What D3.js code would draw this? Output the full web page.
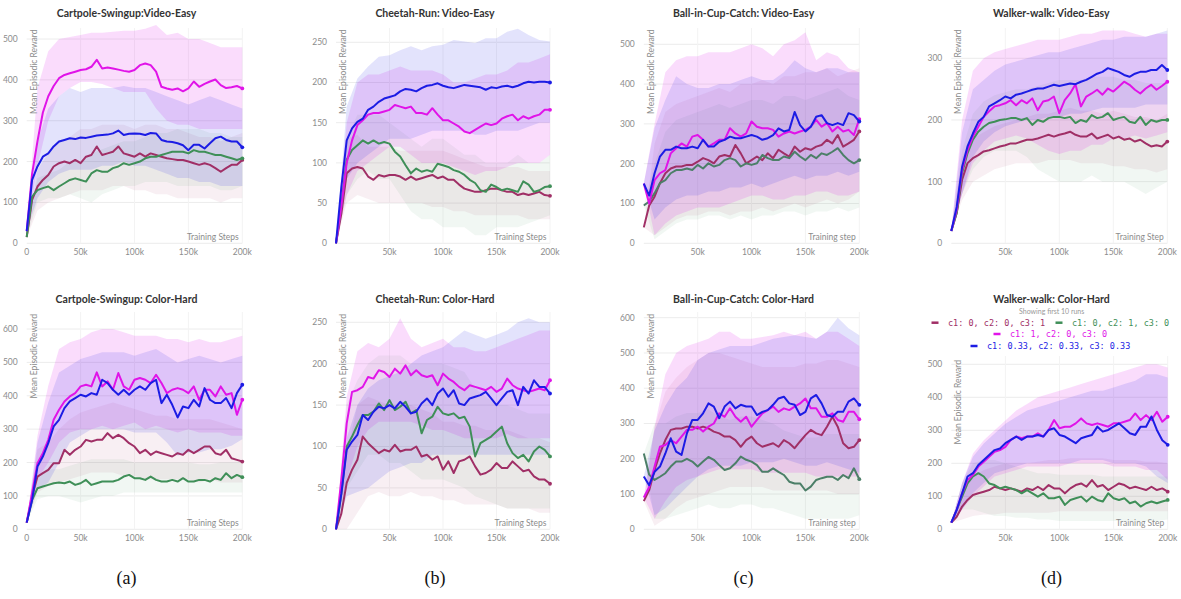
<!DOCTYPE html>
<html><head><meta charset="utf-8">
<script src="https://cdn.jsdelivr.net/npm/d3@7/dist/d3.min.js"></script>
<style>body{margin:0;background:#fff}svg{display:block}</style>
</head><body><svg id="chart" width="1181" height="599"></svg>
<script>
// ---------- shared data ----------
const STEPS = d3.range(0, 201, 5).map(k => k * 1000);       // mean curves
const BAND_STEPS = d3.range(0, 201, 10).map(k => k * 1000); // shaded bands
const SERIES = ["c1: 0, c2: 0, c3: 1", "c1: 0, c2: 1, c3: 0", "c1: 1, c2: 0, c3: 0", "c1: 0.33, c2: 0.33, c3: 0.33"];
const COLORS = ["#a02f66", "#3f8f58", "#e014e8", "#1c1ce4"];
const TITLES = ["Cartpole-Swingup:Video-Easy", "Cheetah-Run: Video-Easy", "Ball-in-Cup-Catch: Video-Easy", "Walker-walk: Video-Easy",
                "Cartpole-Swingup: Color-Hard", "Cheetah-Run: Color-Hard", "Ball-in-Cup-Catch: Color-Hard", "Walker-walk: Color-Hard"];
const X_LABELS = ["Training Steps", "Training Steps", "Training step", "Training Step", "Training Steps", "Training Steps", "Training step", "Training Step"];
const Y_LABEL = "Mean Episodic Reward";
const Y_TICKS = [[0,100,200,300,400,500],[0,50,100,150,200,250],[0,100,200,300,400,500],[0,100,200,300],
                 [0,100,200,300,400,500,600],[0,50,100,150,200,250],[0,100,200,300,400,500,600],[0,100,200,300,400,500]];
const X_TICKS_A = [0, 50000, 100000, 150000, 200000];
const X_TICKS = [50000, 100000, 150000, 200000];
const SUB_LABELS = ["(a)", "(b)", "(c)", "(d)"];

// ---------- Cartpole Video-Easy ----------
const cartVE_maroon = [15,106,139,155,167,188,196,200,196,204,196,212,216,237,216,220,224,237,220,216,212,220,212,220,216,212,208,206,204,204,200,196,192,196,192,184,175,184,192,192,204];
const cartVE_green = [15,114,130,135,139,130,139,147,155,159,155,151,171,179,175,175,184,188,196,192,196,200,208,212,212,216,220,224,224,224,220,228,224,224,220,216,216,212,208,204,208];
const cartVE_magenta = [30,170,250,320,360,385,404,412,416,420,424,426,432,449,428,430,428,425,422,420,424,436,440,436,420,383,379,376,379,372,379,396,383,390,396,401,387,380,382,385,379];
const cartVE_blue = [30,155,188,212,220,237,249,253,257,255,259,258,261,264,265,266,269,276,265,268,269,268,265,270,269,253,249,248,245,240,228,241,241,232,245,257,261,253,249,249,235];
const cartVE_maroon_lo = [15,80,100,110,120,130,130,130,140,140,130,130,120,120,110,110,110,110,100,110,110];
const cartVE_maroon_hi = [15,180,220,250,260,280,280,290,290,290,280,290,290,280,280,270,260,260,250,260,270];
const cartVE_green_lo = [15,100,110,110,120,110,100,120,130,140,140,150,150,150,140,140,140,140,130,130,140];
const cartVE_green_hi = [15,160,170,180,200,200,220,230,240,250,250,260,270,270,280,280,280,270,270,260,260];
const cartVE_magenta_lo = [30,190,300,360,380,395,395,390,380,370,370,370,330,300,290,290,280,280,280,280,280];
const cartVE_magenta_hi = [30,380,470,500,505,510,515,515,518,520,520,525,534,510,515,500,500,490,480,480,480];
const cartVE_blue_lo = [30,110,150,170,180,180,180,190,190,200,190,190,180,170,160,160,150,150,140,140,140];
const cartVE_blue_hi = [30,250,330,360,380,370,380,380,380,385,380,380,370,360,350,340,350,360,350,340,330];

// ---------- Cheetah Video-Easy ----------
const cheeVE_maroon = [0,37,87,93,95,93,83,79,85,83,85,85,83,79,83,79,81,83,85,81,83,79,79,73,68,66,64,64,66,68,68,66,64,64,60,62,60,62,64,60,59];
const cheeVE_green = [0,46,104,116,122,128,124,128,124,126,124,114,108,97,87,93,89,91,89,99,97,95,91,89,85,79,75,66,64,73,70,66,68,66,64,77,73,64,66,70,71];
const cheeVE_magenta = [0,46,100,128,147,153,160,162,162,164,166,172,170,168,170,162,162,160,168,160,153,153,149,145,139,137,141,145,149,147,149,155,158,160,153,158,155,158,160,166,166];
const cheeVE_blue = [0,70,128,143,151,155,166,170,176,180,182,184,189,192,191,189,193,196,197,199,196,194,193,195,197,196,195,194,191,194,193,195,196,194,196,199,201,200,201,201,200];
const cheeVE_maroon_lo = [0,50,60,55,50,50,50,50,50,45,45,40,40,35,35,35,35,35,30,30,30];
const cheeVE_maroon_hi = [0,130,135,120,120,120,115,115,115,115,115,110,105,100,95,95,95,95,90,90,90];
const cheeVE_green_lo = [0,60,80,90,80,80,60,40,30,30,20,20,20,10,10,20,20,20,25,30,35];
const cheeVE_green_hi = [0,130,160,160,160,150,140,130,120,130,130,120,110,110,100,100,100,110,100,100,110];
const cheeVE_magenta_lo = [0,60,90,100,110,120,120,110,100,100,100,95,90,85,90,90,95,100,100,100,110];
const cheeVE_magenta_hi = [0,150,200,210,210,215,220,215,215,215,210,200,200,205,210,210,215,225,225,230,235];
const cheeVE_blue_lo = [0,80,100,110,120,130,130,130,135,140,140,140,140,135,135,140,140,140,145,150,150];
const cheeVE_blue_hi = [0,170,205,220,232,234,240,245,240,245,247,253,251,249,255,255,263,267,259,253,251];

// ---------- Ball-in-Cup Video-Easy ----------
const ballVE_maroon = [40,95,117,151,176,188,193,193,197,197,205,214,209,201,218,222,218,247,226,201,209,218,209,226,214,235,226,218,243,230,239,235,243,247,260,251,272,243,251,260,281];
const ballVE_green = [95,105,126,151,159,176,184,184,188,184,197,188,201,193,197,209,214,209,193,201,197,201,222,214,209,209,218,214,230,218,209,222,214,226,222,230,239,222,209,201,209];
const ballVE_magenta = [150,100,159,176,184,226,239,251,243,268,272,260,243,251,260,260,289,276,268,276,306,293,289,289,285,268,276,281,276,281,285,293,310,293,302,281,293,281,285,272,312];
const ballVE_blue = [150,120,176,218,235,235,243,239,239,243,239,260,243,243,255,260,268,264,264,268,272,268,260,264,272,289,281,285,330,297,281,293,318,322,302,297,302,297,327,322,306];
const ballVE_maroon_lo = [40,20,40,60,70,70,80,80,70,80,80,90,80,90,100,90,100,110,100,110,130];
const ballVE_maroon_hi = [40,250,330,350,360,370,380,390,380,400,400,410,400,420,420,430,430,440,420,430,440];
const ballVE_green_lo = [95,10,30,50,60,60,70,70,60,70,60,70,70,80,80,70,80,80,90,80,90];
const ballVE_green_hi = [95,200,280,310,320,330,340,350,340,350,360,360,350,370,370,360,370,380,390,370,360];
const ballVE_magenta_lo = [150,20,50,70,80,90,90,90,100,110,120,120,110,110,120,120,130,130,120,120,130];
const ballVE_magenta_hi = [150,300,430,460,470,470,480,480,480,490,500,490,470,500,510,530,460,480,470,440,430];
const ballVE_blue_lo = [150,60,90,110,120,120,130,130,140,140,150,140,150,160,170,160,170,170,180,170,180];
const ballVE_blue_hi = [150,290,360,420,400,390,390,400,400,410,420,410,410,430,460,440,430,440,440,430,430];

// ---------- Walker Video-Easy ----------
const walkVE_maroon = [20,49,103,130,138,143,149,151,154,157,159,162,162,165,168,168,170,173,176,173,176,178,181,176,173,173,178,170,173,176,170,173,168,170,165,168,162,157,159,157,165];
const walkVE_green = [20,49,114,146,168,181,189,195,197,200,201,203,203,200,203,192,200,197,203,205,205,203,205,195,200,197,208,203,205,211,200,203,205,197,195,205,192,200,197,200,200];
const walkVE_magenta = [20,54,119,151,173,189,205,214,222,224,227,232,224,232,227,235,216,230,232,238,211,232,243,258,222,238,243,249,241,251,246,254,262,257,249,243,251,257,249,255,262];
const walkVE_blue = [20,59,124,157,178,197,205,222,227,232,238,235,241,243,246,249,251,251,254,257,255,257,259,258,262,265,270,275,278,284,281,278,273,270,275,278,278,281,281,289,281];
const walkVE_maroon_lo = [20,70,100,110,120,125,130,130,130,135,135,135,130,130,130,125,125,120,120,115,120];
const walkVE_maroon_hi = [20,140,170,180,190,195,200,205,210,210,215,220,215,215,210,215,210,205,205,200,210];
const walkVE_green_lo = [20,80,120,140,150,150,150,140,120,110,100,100,100,110,100,100,100,90,80,90,100];
const walkVE_green_hi = [20,150,210,230,240,245,250,250,255,260,265,265,265,270,270,270,265,265,260,260,260];
const walkVE_magenta_lo = [20,80,130,150,165,170,175,170,160,150,145,150,150,160,160,170,170,175,170,175,180];
const walkVE_magenta_hi = [20,200,280,300,310,315,320,325,330,330,330,335,340,340,345,345,345,340,335,340,340];
const walkVE_blue_lo = [20,80,140,165,180,190,195,200,200,205,205,210,210,215,220,220,220,220,225,225,225];
const walkVE_blue_hi = [20,180,250,265,280,290,295,300,305,310,310,315,320,325,330,330,335,335,335,340,345];

// ---------- Cartpole Color-Hard ----------
const cartCH_maroon = [20,98,158,168,178,198,198,238,223,238,248,268,263,268,268,288,273,283,273,258,248,228,238,223,233,228,223,218,228,223,238,228,238,248,248,228,223,238,213,208,203];
const cartCH_green = [20,88,123,128,133,138,140,138,143,133,138,148,133,138,143,143,143,148,158,163,153,153,148,158,148,143,143,148,143,153,143,143,148,148,143,153,148,168,153,163,156];
const cartCH_magenta = [20,108,198,228,268,328,358,383,398,408,428,433,428,470,428,443,418,468,428,418,448,453,448,438,463,438,408,418,423,418,408,428,388,418,418,398,428,403,408,343,388];
const cartCH_blue = [20,88,188,218,258,308,328,363,383,393,403,398,408,403,448,438,418,403,418,403,418,428,418,438,448,378,403,373,335,368,363,388,368,423,388,378,378,393,363,408,433];
const cartCH_maroon_lo = [20,110,130,140,150,160,170,170,170,160,160,150,150,150,150,150,140,150,140,140,140];
const cartCH_maroon_hi = [20,240,260,300,330,350,360,370,380,370,360,350,340,340,330,330,330,330,320,310,300];
const cartCH_green_lo = [20,90,100,100,90,80,90,100,100,110,110,110,110,110,110,110,110,110,110,110,110];
const cartCH_green_hi = [20,160,180,180,190,200,210,210,210,210,200,200,200,200,200,200,195,195,200,200,200];
const cartCH_magenta_lo = [20,150,200,260,290,300,300,310,300,310,320,300,310,300,290,300,290,290,290,280,280];
const cartCH_magenta_hi = [20,280,430,540,560,570,590,600,600,590,580,580,580,570,570,560,570,560,560,570,580];
const cartCH_blue_lo = [20,120,140,200,260,280,300,300,300,300,290,290,290,260,220,230,230,240,240,250,270];
const cartCH_blue_hi = [20,260,380,470,490,510,520,530,530,530,520,530,540,520,500,510,520,510,500,510,520];

// ---------- Cheetah Color-Hard ----------
const cheeCH_maroon = [0,19,56,72,84,112,104,98,92,96,94,102,94,96,96,100,88,90,84,88,72,82,68,82,84,88,76,66,68,72,80,74,74,82,76,70,72,64,60,60,55];
const cheeCH_green = [0,43,100,112,126,138,138,142,152,144,156,144,148,154,140,144,116,132,136,148,140,138,140,134,136,124,88,104,108,112,118,124,104,92,86,90,82,94,100,96,88];
const cheeCH_magenta = [0,60,128,166,168,172,184,182,192,190,184,194,188,198,186,192,186,184,186,174,188,182,178,172,168,174,172,170,168,172,166,170,182,174,170,168,166,168,170,168,180];
const cheeCH_blue = [0,43,96,106,114,138,132,142,148,146,150,146,154,148,140,142,152,158,150,164,170,160,168,152,150,158,160,162,166,158,150,158,166,168,150,172,164,180,172,172,164];
const cheeCH_maroon_lo = [0,0,20,40,45,40,40,45,40,40,35,35,30,30,30,30,25,25,25,20,20];
const cheeCH_maroon_hi = [0,90,150,160,155,150,150,150,145,140,130,130,125,125,120,120,120,115,110,110,105];
const cheeCH_green_lo = [0,50,70,90,90,80,80,70,60,60,60,55,50,40,35,30,25,25,25,25,25];
const cheeCH_green_hi = [0,150,180,200,210,210,210,200,200,200,200,195,190,170,160,150,150,145,140,140,140];
const cheeCH_magenta_lo = [0,60,100,120,130,130,130,130,125,120,120,115,110,110,110,110,115,110,110,110,110];
const cheeCH_magenta_hi = [0,160,215,225,220,230,255,230,220,225,230,220,220,215,215,220,225,230,235,240,240];
const cheeCH_blue_lo = [0,40,45,50,60,70,75,80,80,90,90,90,90,90,90,90,90,90,90,90,90];
const cheeCH_blue_hi = [0,110,150,170,180,185,190,200,210,215,220,230,240,235,230,235,240,250,255,250,250];

// ---------- Ball-in-Cup Color-Hard ----------
const ballCH_maroon = [80,111,168,215,253,282,286,286,291,291,286,291,286,277,272,263,263,253,234,253,263,244,234,239,244,234,253,244,230,249,267,282,272,267,291,319,291,244,230,234,253];
const ballCH_green = [215,155,140,149,159,178,192,192,200,192,178,192,205,197,182,168,173,187,206,197,192,182,163,163,173,163,154,135,130,130,110,121,140,145,149,149,140,154,145,173,142];
const ballCH_magenta = [90,120,178,234,239,253,244,263,282,282,291,277,291,300,329,319,343,319,305,319,291,310,329,338,348,333,343,338,348,357,371,343,343,319,319,329,310,305,333,333,312];
const ballCH_blue = [150,125,163,178,215,258,220,211,272,310,310,329,357,348,315,348,362,343,353,348,348,324,333,338,353,371,376,357,353,324,333,371,381,357,324,319,333,333,362,371,353];
const ballCH_maroon_lo = [80,10,30,60,80,90,100,110,120,120,120,120,110,110,110,110,110,110,100,100,100];
const ballCH_maroon_hi = [80,290,390,430,460,480,500,500,490,480,470,460,460,460,460,470,470,480,480,470,460];
const ballCH_green_lo = [215,30,30,40,50,60,70,60,60,70,70,60,60,50,40,30,30,30,30,30,40];
const ballCH_green_hi = [215,300,300,320,330,330,340,320,310,320,320,310,300,280,270,260,260,270,270,270,270];
const ballCH_magenta_lo = [90,30,80,120,140,150,160,170,170,170,170,160,160,160,160,160,150,150,150,150,150];
const ballCH_magenta_hi = [90,290,440,500,520,530,540,560,560,540,540,545,550,560,550,560,540,560,560,540,520];
const ballCH_blue_lo = [150,40,60,90,120,150,170,180,180,180,190,190,190,200,190,180,180,190,180,170,160];
const ballCH_blue_hi = [150,280,350,400,430,480,500,510,520,520,520,530,540,545,550,545,540,560,600,570,550];

// ---------- Walker Color-Hard ----------
const walkCH_maroon = [20,38,69,89,104,109,114,119,129,124,119,124,119,114,124,119,129,119,134,124,124,109,124,134,139,129,149,129,134,119,129,139,134,124,129,124,119,129,119,124,114];
const walkCH_green = [20,59,99,139,160,170,160,139,134,124,129,124,119,109,119,109,99,109,94,94,99,74,89,94,99,84,99,89,84,109,94,89,94,79,84,69,79,84,79,84,89];
const walkCH_magenta = [20,59,109,149,165,190,205,220,235,240,250,271,281,276,281,281,291,281,301,331,306,311,311,321,336,321,316,321,316,311,321,321,326,331,351,331,346,331,356,326,341];
const walkCH_blue = [20,59,109,160,170,195,210,225,240,245,261,271,281,271,281,281,286,281,301,306,286,281,271,261,276,281,286,311,296,301,311,321,306,291,286,311,311,342,301,270,256];
const walkCH_maroon_lo = [20,30,40,45,45,50,50,50,50,50,55,55,55,55,55,55,55,55,55,55,55];
const walkCH_maroon_hi = [20,110,160,180,190,200,200,200,205,210,210,215,215,215,215,210,210,210,205,205,200];
const walkCH_green_lo = [20,60,60,50,40,40,35,35,30,30,25,25,25,25,25,25,25,25,25,25,30];
const walkCH_green_hi = [20,140,200,210,210,200,190,180,170,170,165,165,165,165,160,160,160,160,160,160,160];
const walkCH_magenta_lo = [20,60,100,130,160,170,180,190,190,190,190,200,200,200,200,190,190,190,180,180,150];
const walkCH_magenta_hi = [20,140,230,270,300,330,360,380,400,410,420,430,440,450,460,470,480,490,500,500,490];
const walkCH_blue_lo = [20,60,110,140,170,180,190,200,200,200,200,200,210,210,210,200,200,200,190,160,140];
const walkCH_blue_hi = [20,140,220,260,290,320,340,360,370,380,390,400,410,420,420,430,440,450,470,470,460];

// ---------- assemble ----------
const DATA = [
  {m:[cartVE_maroon,cartVE_green,cartVE_magenta,cartVE_blue], lo:[cartVE_maroon_lo,cartVE_green_lo,cartVE_magenta_lo,cartVE_blue_lo], hi:[cartVE_maroon_hi,cartVE_green_hi,cartVE_magenta_hi,cartVE_blue_hi]},
  {m:[cheeVE_maroon,cheeVE_green,cheeVE_magenta,cheeVE_blue], lo:[cheeVE_maroon_lo,cheeVE_green_lo,cheeVE_magenta_lo,cheeVE_blue_lo], hi:[cheeVE_maroon_hi,cheeVE_green_hi,cheeVE_magenta_hi,cheeVE_blue_hi]},
  {m:[ballVE_maroon,ballVE_green,ballVE_magenta,ballVE_blue], lo:[ballVE_maroon_lo,ballVE_green_lo,ballVE_magenta_lo,ballVE_blue_lo], hi:[ballVE_maroon_hi,ballVE_green_hi,ballVE_magenta_hi,ballVE_blue_hi]},
  {m:[walkVE_maroon,walkVE_green,walkVE_magenta,walkVE_blue], lo:[walkVE_maroon_lo,walkVE_green_lo,walkVE_magenta_lo,walkVE_blue_lo], hi:[walkVE_maroon_hi,walkVE_green_hi,walkVE_magenta_hi,walkVE_blue_hi]},
  {m:[cartCH_maroon,cartCH_green,cartCH_magenta,cartCH_blue], lo:[cartCH_maroon_lo,cartCH_green_lo,cartCH_magenta_lo,cartCH_blue_lo], hi:[cartCH_maroon_hi,cartCH_green_hi,cartCH_magenta_hi,cartCH_blue_hi]},
  {m:[cheeCH_maroon,cheeCH_green,cheeCH_magenta,cheeCH_blue], lo:[cheeCH_maroon_lo,cheeCH_green_lo,cheeCH_magenta_lo,cheeCH_blue_lo], hi:[cheeCH_maroon_hi,cheeCH_green_hi,cheeCH_magenta_hi,cheeCH_blue_hi]},
  {m:[ballCH_maroon,ballCH_green,ballCH_magenta,ballCH_blue], lo:[ballCH_maroon_lo,ballCH_green_lo,ballCH_magenta_lo,ballCH_blue_lo], hi:[ballCH_maroon_hi,ballCH_green_hi,ballCH_magenta_hi,ballCH_blue_hi]},
  {m:[walkCH_maroon,walkCH_green,walkCH_magenta,walkCH_blue], lo:[walkCH_maroon_lo,walkCH_green_lo,walkCH_magenta_lo,walkCH_blue_lo], hi:[walkCH_maroon_hi,walkCH_green_hi,walkCH_magenta_hi,walkCH_blue_hi]}
];

// layout (pixel geometry of each panel)
const LAYOUT = [
  {x0:26.7, x1:242.3, yb:243.3, yt:39,   tv:500, top:28},
  {x0:336,  x1:550,   yb:243.3, yt:42.3, tv:250, top:28},
  {x0:643.8,x1:859.3, yb:243.3, yt:44.3, tv:500, top:28},
  {x0:951.3,x1:1167.3,yb:243.3, yt:58.3, tv:300, top:28},
  {x0:26.7, x1:242.3, yb:529.3, yt:329,  tv:600, top:312},
  {x0:336,  x1:550,   yb:529.3, yt:322.3,tv:250, top:312},
  {x0:643.8,x1:859.3, yb:529.3, yt:317.7,tv:600, top:312},
  {x0:951.3,x1:1167.7,yb:529.3, yt:364.3,tv:500, top:356}
];

const svg = d3.select("#chart");
const FONT = "Lato, 'Open Sans', sans-serif";
const BAND_OP = [0.08, 0.07, 0.15, 0.12];

LAYOUT.forEach((L, i) => {
  const row = i < 4 ? 0 : 1;
  const x = d3.scaleLinear().domain([0, 200000]).range([L.x0, L.x1]);
  const y = d3.scaleLinear().domain([0, L.tv]).range([L.yb, L.yt]);
  const g = svg.append("g");
  const xt = (i === 0 || i === 4) ? X_TICKS_A : X_TICKS;
  const lineColors = COLORS.slice();
  if (i === 2 || i === 6) lineColors[1] = "#4c7f68";

  // grid
  g.selectAll(".hg").data(Y_TICKS[i]).join("line")
    .attr("x1", L.x0).attr("x2", L.x1).attr("y1", d => y(d)).attr("y2", d => y(d))
    .attr("stroke", "#ececec").attr("stroke-width", 1);
  g.selectAll(".vg").data(xt.filter(d => d > 0)).join("line")
    .attr("x1", d => x(d)).attr("x2", d => x(d)).attr("y1", L.top).attr("y2", L.yb)
    .attr("stroke", "#f3f3f3").attr("stroke-width", 1);

  // bands
  const D = DATA[i];
  const area = d3.area().x((d, k) => x(BAND_STEPS[k])).y0(d => y(d[0])).y1(d => y(d[1]));
  [0,1,2,3].forEach(s => {
    const pts = D.lo[s].map((v, k) => [v, D.hi[s][k]]);
    g.append("path").attr("d", area(pts)).attr("fill", COLORS[s]).attr("fill-opacity", BAND_OP[s]);
  });

  // lines
  const line = d3.line().x((d, k) => x(STEPS[k])).y(d => y(d));
  [0,1,2,3].forEach(s => {
    g.append("path").attr("d", line(D.m[s])).attr("fill", "none")
      .attr("stroke", lineColors[s]).attr("stroke-width", 2).attr("stroke-linejoin", "round");
    const last = D.m[s][D.m[s].length - 1];
    g.append("circle").attr("cx", x(200000)).attr("cy", y(last)).attr("r", 1.9).attr("fill", lineColors[s]);
  });

  // tick labels
  g.selectAll(".yl").data(Y_TICKS[i]).join("text")
    .attr("x", L.x0 - 9).attr("y", d => y(d)).attr("dy", "0.35em").attr("text-anchor", "end")
    .attr("font-family", FONT).attr("font-size", 8.5).attr("fill", "#8c8c8c").text(d => d);
  g.selectAll(".xl").data(xt).join("text")
    .attr("x", d => x(d)).attr("y", L.yb + 8.3).attr("dy", "0.35em").attr("text-anchor", "middle")
    .attr("font-family", FONT).attr("font-size", 8.5).attr("fill", "#8c8c8c")
    .text(d => d === 0 ? "0" : (d / 1000) + "k");

  // axis titles
  g.append("text").attr("x", L.x1 - 3.5).attr("y", L.yb - 3.8).attr("text-anchor", "end")
    .attr("font-family", FONT).attr("font-size", 8.5).attr("fill", "#8c8c8c").text(X_LABELS[i]);
  const lt = i === 7 ? 360 : (row === 0 ? 29.5 : 314);
  g.append("text").attr("transform", `translate(${L.x0 + 10},${lt}) rotate(-90)`).attr("text-anchor", "end")
    .attr("font-family", FONT).attr("font-size", 8.5).attr("fill", "#8c8c8c").text(Y_LABEL);

  // panel title
  g.append("text").attr("x", (L.x0 + L.x1) / 2 - 8).attr("y", row === 0 ? 16.5 : 302.5).attr("text-anchor", "middle")
    .attr("font-family", FONT).attr("font-weight", 700).attr("font-size", 10.5).attr("fill", "#333").text(TITLES[i]);

  if (row === 1) {
    svg.append("text").attr("x", (L.x0 + L.x1) / 2 - 8).attr("y", 584).attr("text-anchor", "middle")
      .attr("font-family", "'Liberation Serif', 'DejaVu Serif', serif").attr("font-size", 18).attr("fill", "#111")
      .text(SUB_LABELS[i - 4]);
  }
});

// legend in last panel
svg.append("text").attr("x", 1051.7).attr("y", 311.7).attr("dy", "0.35em").attr("text-anchor", "middle")
  .attr("font-family", FONT).attr("font-size", 7).attr("fill", "#999").text("Showing first 10 runs");
const LEG_POS = [[935, 322.7], [1059, 322.7], [997, 334], [974, 346]];
SERIES.forEach((name, s) => {
  const [lx, ly] = LEG_POS[s];
  svg.append("line").attr("x1", lx - 3.5).attr("x2", lx + 3.5).attr("y1", ly).attr("y2", ly)
    .attr("stroke", COLORS[s]).attr("stroke-width", 2.5);
  svg.append("text").attr("x", lx + 13).attr("y", ly).attr("dy", "0.35em")
    .attr("font-family", "'DejaVu Sans Mono', 'Liberation Mono', monospace").attr("font-size", 8.5)
    .attr("fill", COLORS[s]).text(name);
});
</script></body></html>
